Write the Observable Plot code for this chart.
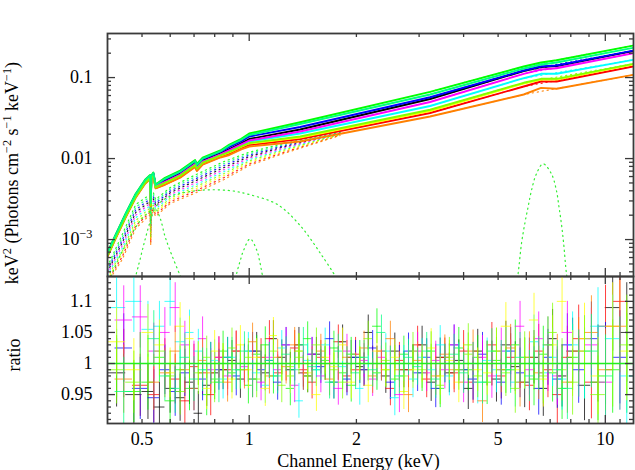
<!DOCTYPE html>
<html><head><meta charset="utf-8">
<script src="https://cdn.jsdelivr.net/npm/d3@7"></script>
<script src="https://cdn.jsdelivr.net/npm/@observablehq/plot@0.6"></script>
<style>
html,body{margin:0;padding:0;background:#fff;}
#chart{position:relative;width:635px;height:470px;overflow:hidden;}
#chart svg{position:absolute;left:0;}
#chart svg text{font-family:'Liberation Serif','Times New Roman',serif !important;}
</style></head><body><div id="chart"></div>
<script>
// ---------- model curves (keV, keV^2 Photons cm^-2 s^-1 keV^-1) ----------
const modelE = [0.4,0.42,0.45,0.48,0.51,0.527,0.529,0.531,0.538,0.546,0.58,0.64,0.705,0.713,0.74,0.83,0.88,0.95,1.0,1.39,3.22,5.9,6.6,7.3,12];
const modelBlack = [6.63e-4,1.062e-3,2.020e-3,3.53e-3,5.25e-3,6.01e-3,2.75e-3,5.92e-3,6.45e-3,4.59e-3,5.32e-3,6.52e-3,8.80e-3,7.87e-3,9.44e-3,1.156e-2,1.313e-2,1.544e-2,0.01744,0.02285,0.0544,0.1205,0.1350,0.1389,0.2128];
const modelRed = [6.26e-4,1.004e-3,1.909e-3,3.33e-3,4.96e-3,5.67e-3,2.60e-3,5.59e-3,6.09e-3,4.33e-3,4.81e-3,5.90e-3,7.97e-3,7.12e-3,8.54e-3,1.046e-2,1.155e-2,1.358e-2,0.01471,0.01744,0.0365,0.0776,0.0894,0.0894,0.1370];
const modelGreen = [6.92e-4,1.109e-3,2.109e-3,3.68e-3,5.48e-3,6.27e-3,2.87e-3,6.18e-3,6.73e-3,4.79e-3,5.79e-3,7.10e-3,9.59e-3,8.57e-3,1.028e-2,1.259e-2,1.492e-2,1.754e-2,0.02039,0.0281,0.0667,0.1370,0.1535,0.1638,0.2488];
const modelBlue = [6.73e-4,1.078e-3,2.050e-3,3.58e-3,5.33e-3,6.09e-3,2.79e-3,6.01e-3,6.54e-3,4.66e-3,5.55e-3,6.80e-3,9.19e-3,8.21e-3,9.85e-3,1.206e-2,1.389e-2,1.633e-2,0.01873,0.0245,0.0572,0.1222,0.1370,0.1409,0.2158];
const modelCyan = [6.44e-4,1.032e-3,1.963e-3,3.43e-3,5.10e-3,5.84e-3,2.67e-3,5.75e-3,6.27e-3,4.46e-3,5.10e-3,6.25e-3,8.44e-3,7.54e-3,9.05e-3,1.108e-2,1.240e-2,1.458e-2,0.01624,0.02039,0.0446,0.0982,0.1113,0.1113,0.1657];
const modelMagenta = [6.54e-4,1.048e-3,1.993e-3,3.48e-3,5.18e-3,5.93e-3,2.71e-3,5.84e-3,6.36e-3,4.53e-3,5.17e-3,6.34e-3,8.56e-3,7.65e-3,9.18e-3,1.124e-2,1.276e-2,1.500e-2,0.01671,0.02158,0.0499,0.1113,0.1258,0.1305,0.1999];
const modelYellow = [6.35e-4,1.018e-3,1.936e-3,3.38e-3,5.03e-3,5.76e-3,2.63e-3,5.67e-3,6.18e-3,4.40e-3,4.95e-3,6.07e-3,8.20e-3,7.33e-3,8.79e-3,1.076e-2,1.189e-2,1.398e-2,0.01535,0.01820,0.0387,0.0845,0.0946,0.0946,0.1450];
const modelOrange = [6.18e-4,0.990e-3,1.883e-3,3.29e-3,4.89e-3,5.60e-3,2.56e-3,5.52e-3,6.01e-3,4.28e-3,4.75e-3,5.82e-3,7.86e-3,7.03e-3,8.43e-3,1.032e-2,1.107e-2,1.301e-2,0.01409,0.01624,0.0331,0.0618,0.0747,0.0727,0.1082];
const modelYellowGreen = [6.35e-4,1.018e-3,1.936e-3,3.38e-3,5.03e-3,5.76e-3,2.63e-3,5.67e-3,6.18e-3,4.40e-3,5.03e-3,6.16e-3,8.32e-3,7.44e-3,8.92e-3,1.093e-2,1.206e-2,1.417e-2,0.01556,0.01873,0.0401,0.0862,0.0965,0.0965,0.1479];
const modelSpringGreen = [6.82e-4,1.094e-3,2.080e-3,3.63e-3,5.40e-3,6.18e-3,2.83e-3,6.09e-3,6.64e-3,4.72e-3,5.63e-3,6.90e-3,9.32e-3,8.33e-3,9.99e-3,1.224e-2,1.450e-2,1.705e-2,0.01954,0.0267,0.0618,0.1294,0.1450,0.1535,0.2331];

// dotted continuum components
const compE = [0.4,0.44,0.48,0.527,0.529,0.531,0.538,0.546,0.6,0.7,0.85,1.0,1.25,1.5,1.8];
const compHiE = [3.22,5.9,12];
const compGreen = [4.65e-4,1.155e-3,2.71e-3,3.60e-3,1.624e-3,3.60e-3,3.81e-3,3.12e-3,4.39e-3,6.18e-3,9.20e-3,1.198e-2,1.535e-2,1.820e-2,2.10e-2];
const compSpringGreen = [4.42e-4,1.067e-3,2.51e-3,3.38e-3,1.510e-3,3.38e-3,3.59e-3,2.96e-3,4.18e-3,5.84e-3,8.69e-3,1.149e-2,1.487e-2,1.780e-2,2.08e-2];
const compBlue = [4.20e-4,0.986e-3,2.33e-3,3.17e-3,1.405e-3,3.17e-3,3.38e-3,2.81e-3,3.97e-3,5.51e-3,8.21e-3,1.102e-2,1.440e-2,1.741e-2,2.06e-2];
const compBlack = [4.00e-4,9.11e-4,2.16e-3,2.98e-3,1.306e-3,2.98e-3,3.18e-3,2.66e-3,3.78e-3,5.21e-3,7.76e-3,1.056e-2,1.396e-2,1.703e-2,2.04e-2];
const compMagenta = [3.80e-4,8.42e-4,2.00e-3,2.80e-3,1.215e-3,2.80e-3,3.00e-3,2.52e-3,3.59e-3,4.92e-3,7.33e-3,1.013e-2,1.352e-2,1.666e-2,2.02e-2];
const compCyan = [3.61e-4,7.78e-4,1.855e-3,2.62e-3,1.129e-3,2.62e-3,2.82e-3,2.39e-3,3.41e-3,4.65e-3,6.92e-3,9.71e-3,1.310e-2,1.629e-2,2.00e-2];
const compYellowGreen = [3.43e-4,7.19e-4,1.719e-3,2.46e-3,1.050e-3,2.46e-3,2.66e-3,2.26e-3,3.24e-3,4.39e-3,6.54e-3,9.32e-3,1.270e-2,1.594e-2,1.98e-2];
const compYellow = [3.26e-4,6.65e-4,1.594e-3,2.31e-3,0.977e-3,2.31e-3,2.50e-3,2.14e-3,3.08e-3,4.15e-3,6.18e-3,8.93e-3,1.230e-2,1.559e-2,1.96e-2];
const compRed = [3.10e-4,6.14e-4,1.477e-3,2.17e-3,9.08e-4,2.17e-3,2.36e-3,2.03e-3,2.93e-3,3.92e-3,5.84e-3,8.56e-3,1.192e-2,1.525e-2,1.945e-2];
const compOrange = [2.95e-4,5.67e-4,1.370e-3,2.04e-3,8.45e-4,2.04e-3,2.22e-3,1.926e-3,2.79e-3,3.70e-3,5.51e-3,8.21e-3,1.155e-2,1.492e-2,1.93e-2];

// green soft components
const bumpE = [0.405,0.43,0.474,0.50,0.53,0.59,0.70,0.80,0.90,1.0,1.2,1.39,1.6,1.8];
const bumpV = [3.12e-4,5.84e-4,1.293e-3,1.820e-3,2.285e-3,3.31e-3,3.98e-3,4.12e-3,3.98e-3,3.60e-3,2.71e-3,1.492e-3,6.36e-4,2.87e-4];
const lineOE = [0.47,0.49,0.51,0.53,0.545,0.563,0.58,0.61,0.645];
const lineOV = [2.5e-4,5e-4,1.0e-3,1.8e-3,2.4e-3,1.8e-3,1.1e-3,6e-4,3.3e-4];
const line1E = [0.905,0.924,0.944,0.964,1.006,1.051,1.069,1.085,1.105];
const line1V = [2.5e-4,3.95e-4,5.51e-4,7.33e-4,1.022e-3,7.33e-4,5.51e-4,3.95e-4,2.5e-4];
const lineFeE = [5.6,5.689,5.815,5.94,6.068,6.203,6.406,6.686,7.058,7.29,7.414,7.53,7.64,7.78,7.9];
const lineFeV = [2.5e-4,3.78e-4,8.87e-4,1.566e-3,2.51e-3,4.03e-3,6.49e-3,8.62e-3,6.49e-3,4.03e-3,2.51e-3,1.566e-3,8.87e-4,3.78e-4,2.5e-4];

// ---------- residual ratios ----------
const edgesA = [0.40,0.45,0.50,0.54,0.58,0.62,0.66,0.70,0.74,0.78,0.82,0.87,0.92,0.97,1.02,1.08,1.14,1.20,1.27,1.34,1.42,1.50,1.59,1.68,1.78,1.88,1.99,2.10,2.22,2.35,2.49,2.64,2.80,2.97,3.15,3.34,3.54,3.76,4.00,4.25,4.52,4.80,5.10,5.42,5.76,6.12,6.50,6.90,7.33,7.80,8.40,9.10,10.0,11.0,12.0];
const errA = [0.055,0.05,0.045,0.04,0.04,0.038,0.036,0.035,0.034,0.033,0.032,0.032,0.031,0.03,0.03,0.029,0.029,0.028,0.028,0.028,0.027,0.027,0.027,0.027,0.027,0.027,0.027,0.028,0.028,0.028,0.029,0.029,0.03,0.03,0.031,0.031,0.032,0.033,0.034,0.035,0.036,0.037,0.038,0.04,0.041,0.043,0.045,0.047,0.05,0.053,0.057,0.062,0.07,0.08];
const edgesB = [0.42,0.47,0.52,0.56,0.60,0.64,0.68,0.72,0.76,0.80,0.845,0.895,0.945,0.995,1.05,1.11,1.17,1.235,1.305,1.38,1.46,1.545,1.635,1.73,1.83,1.935,2.045,2.16,2.285,2.42,2.565,2.72,2.885,3.06,3.245,3.44,3.65,3.88,4.125,4.385,4.66,4.95,5.26,5.59,5.94,6.31,6.70,7.11,7.56,8.1,8.75,9.55,10.5,11.5];
const errB = [0.055,0.05,0.045,0.04,0.04,0.038,0.036,0.035,0.034,0.033,0.032,0.032,0.031,0.03,0.03,0.029,0.029,0.028,0.028,0.028,0.027,0.027,0.027,0.027,0.027,0.027,0.027,0.028,0.028,0.028,0.029,0.029,0.03,0.03,0.031,0.031,0.032,0.033,0.034,0.035,0.036,0.037,0.038,0.04,0.041,0.043,0.045,0.047,0.05,0.054,0.059,0.066,0.075];
const ratioBlack = [0.985,0.95,0.955,0.93,0.96,0.945,0.97,0.92,0.965,0.985,0.99,1.005,0.975,1.0,1.02,0.985,1.04,1.01,0.99,1.03,0.98,1.015,1.0,0.97,1.035,1.01,0.995,1.05,1.0,0.98,1.02,0.99,1.0,1.03,0.97,1.01,0.985,1.005,0.96,1.02,1.0,0.975,1.03,0.995,0.97,1.01,0.96,1.04,0.98,1.02,0.965,1.0,1.09,1.05];
const ratioGreen = [1.0,0.955,0.97,1.01,0.94,0.99,0.96,1.0,0.95,0.975,1.02,0.985,1.0,0.965,1.015,1.03,0.98,1.0,0.96,1.02,1.04,0.99,1.005,1.025,0.985,0.965,1.01,1.0,1.06,0.99,0.975,1.015,1.0,0.985,1.02,0.96,1.0,1.025,0.99,1.01,0.97,1.005,0.99,1.03,1.0,0.975,1.015,0.985,0.96,1.01,1.0,0.97,0.99,1.0];
const ratioCyan = [1.09,1.1,1.055,1.06,1.1,1.035,1.05,1.02,0.99,1.005,0.975,1.01,0.99,1.02,0.985,0.965,1.0,1.025,0.98,0.94,1.005,0.99,1.03,0.97,0.995,1.015,0.96,1.0,0.985,1.02,0.945,1.0,0.975,1.01,0.99,1.03,0.98,1.0,1.015,0.97,1.005,0.99,1.02,0.97,1.0,1.035,0.985,1.01,0.975,1.03,1.0,1.06,1.04,0.98];
const ratioYellow = [1.035,0.99,1.05,1.03,0.985,1.06,1.04,1.0,0.96,1.02,1.0,0.975,1.03,0.99,1.01,0.96,1.045,1.0,0.98,1.02,0.985,0.95,1.01,0.995,1.03,0.97,1.0,0.965,1.02,0.99,1.01,0.955,0.99,1.0,1.025,0.98,1.005,0.97,1.015,0.99,0.985,1.02,1.06,0.99,1.0,1.07,0.975,1.03,1.1,1.0,1.04,0.98,1.06,1.02];
const ratioYellowGreen = [0.99,0.97,1.0,1.02,0.98,0.955,1.0,0.985,1.01,0.97,1.0,1.025,0.99,1.01,0.975,1.0,1.02,0.965,0.995,1.01,0.98,1.03,1.0,0.99,0.97,1.015,1.0,1.04,0.985,1.005,1.0,0.98,1.02,0.99,1.0,0.965,1.01,0.99,1.03,0.98,1.0,1.02,0.985,0.96,1.01,1.0,0.98,1.05,0.99,0.97,1.02,0.95,1.0,1.03];
const ratioRed = [1.0,0.965,0.95,1.0,0.975,0.94,0.995,0.985,0.95,1.01,0.99,1.02,1.0,0.975,1.01,1.04,0.985,1.0,1.025,0.99,0.97,1.01,1.0,1.035,0.98,1.015,0.99,1.0,1.02,0.96,1.005,0.99,1.03,0.975,1.0,1.01,0.985,1.02,0.97,1.0,1.03,0.98,1.01,1.0,0.965,1.02,0.99,0.95,1.01,1.04,0.97,1.06,1.1];
const ratioBlue = [1.025,0.96,0.945,0.99,0.955,0.985,0.96,0.975,1.0,0.99,1.01,0.98,1.0,1.02,0.99,1.005,0.97,1.03,1.0,0.985,1.015,0.995,1.04,1.0,0.975,1.01,0.99,1.025,1.0,0.97,1.0,1.02,0.985,1.01,0.96,1.0,1.03,0.99,0.975,1.015,1.0,0.97,1.02,0.985,1.0,0.96,1.01,0.975,1.03,0.99,1.04,1.0,1.01];
const ratioMagenta = [1.07,1.075,1.02,1.05,1.09,1.03,1.0,1.04,0.99,1.01,0.98,1.02,0.995,1.0,0.97,1.01,0.99,1.03,0.965,1.0,1.015,0.98,1.0,0.96,1.02,0.99,1.005,0.975,1.01,1.0,0.95,1.0,1.02,0.985,1.005,0.99,1.03,0.97,1.0,1.01,0.98,1.02,1.0,1.06,0.99,1.04,1.0,0.98,1.05,1.0,1.03,0.97,1.0];
const ratioOrange = [0.975,1.0,0.97,0.985,1.02,0.99,0.96,1.005,0.985,1.0,0.97,1.02,0.99,1.035,1.0,0.98,1.01,0.995,1.03,0.985,1.0,1.02,0.975,1.0,1.01,0.99,1.025,0.98,1.0,1.04,0.99,0.95,1.005,1.0,0.98,1.015,0.99,1.0,1.02,0.94,1.0,0.99,1.025,0.97,1.01,0.985,1.03,1.0,0.97,1.02,1.05,0.99,1.06];
const ratioSpringGreen = [0.955,1.0,1.04,0.98,0.96,1.01,0.975,0.99,1.0,0.97,1.01,0.99,1.02,0.975,1.0,1.005,0.98,1.015,0.99,1.03,0.995,1.0,0.97,1.02,1.0,0.985,1.01,0.99,1.05,1.0,0.98,1.01,0.995,1.02,0.975,1.0,1.015,0.985,1.0,0.97,1.02,1.0,0.99,1.01,0.98,1.0,1.03,0.99,0.96,1.0,1.02,0.98,1.0];

// ---------- axes ----------
const xLabelTicks = [0.5,1,2,5,10];
const xMajorTicks = [1,10];
const xMinorTicks = [0.5,0.6,0.7,0.8,0.9,2,3,4,5,6,7,8,9,11];
const specLabelTicks = [0.001,0.01,0.1];
const specMinorTicks = [0.0004,0.0005,0.0006,0.0007,0.0008,0.0009,0.002,0.003,0.004,0.005,0.006,0.007,0.008,0.009,0.02,0.03,0.04,0.05,0.06,0.07,0.08,0.09,0.2,0.3];
const ratioLabelTicks = [0.95,1,1.05,1.1];
const ratioMinorTicks = [0.91,0.92,0.93,0.94,0.96,0.97,0.98,0.99,1.01,1.02,1.03,1.04,1.06,1.07,1.08,1.09,1.11,1.12,1.13];
const xTitle = "Channel Energy (keV)";
const specTitle = "keV² (Photons cm⁻² s⁻¹ keV⁻¹)";
const ratioTitle = "ratio";

// ---------- build ----------
const series = [
  {color:"#000000", model:modelBlack, comp:compBlack, ratio:ratioBlack, edges:edgesA, err:errA},
  {color:"#ff0000", model:modelRed, comp:compRed, ratio:ratioRed, edges:edgesB, err:errB},
  {color:"#00ff00", model:modelGreen, comp:compGreen, ratio:ratioGreen, edges:edgesA, err:errA},
  {color:"#0000ff", model:modelBlue, comp:compBlue, ratio:ratioBlue, edges:edgesB, err:errB},
  {color:"#00ffff", model:modelCyan, comp:compCyan, ratio:ratioCyan, edges:edgesA, err:errA},
  {color:"#ff00ff", model:modelMagenta, comp:compMagenta, ratio:ratioMagenta, edges:edgesB, err:errB},
  {color:"#ffff00", model:modelYellow, comp:compYellow, ratio:ratioYellow, edges:edgesA, err:errA},
  {color:"#ff8000", model:modelOrange, comp:compOrange, ratio:ratioOrange, edges:edgesB, err:errB},
  {color:"#80ff00", model:modelYellowGreen, comp:compYellowGreen, ratio:ratioYellowGreen, edges:edgesA, err:errA},
  {color:"#00ff80", model:modelSpringGreen, comp:compSpringGreen, ratio:ratioSpringGreen, edges:edgesB, err:errB}
];

const W = 635, ML = 107, MR = 2;
const FW = W - ML - MR;
const H1 = 277, MT1 = 33, MB1 = 1, FH1 = H1 - MT1 - MB1;
const H2 = 195, MT2 = 1, MB2 = 47, FH2 = H2 - MT2 - MB2;
const font = "'Liberation Serif', 'Times New Roman', serif";
const tickColor = "#3a3a3a";

function xTickMarks(vals, len, fh) {
  return [
    Plot.tickX(vals, {x: d => d, insetTop: fh - len, stroke: tickColor, strokeWidth: 1.3}),
    Plot.tickX(vals, {x: d => d, insetBottom: fh - len, stroke: tickColor, strokeWidth: 1.3})
  ];
}
function yTickMarks(vals, len) {
  return [
    Plot.tickY(vals, {y: d => d, insetRight: FW - len, stroke: tickColor, strokeWidth: 1.3}),
    Plot.tickY(vals, {y: d => d, insetLeft: FW - len, stroke: tickColor, strokeWidth: 1.3})
  ];
}
const pts = (E, V) => E.map((e, i) => ({e, v: V[i]}));
const dotted = {strokeWidth: 1.2, strokeDasharray: "1.2,3.8", clip: true};

const topMarks = [];
for (const s of series) {
  topMarks.push(Plot.line(pts(compE, s.comp), {x: "e", y: "v", stroke: s.color, strokeOpacity: 0.85, ...dotted}));
  topMarks.push(Plot.line(compHiE.map(e => ({e, v: s.model[modelE.indexOf(e)]})), {x: "e", y: "v", stroke: s.color, strokeOpacity: 0.85, ...dotted}));
}
for (const [E, V] of [[bumpE, bumpV], [lineOE, lineOV], [line1E, line1V], [lineFeE, lineFeV]]) {
  topMarks.push(Plot.line(pts(E, V), {x: "e", y: "v", stroke: "#33ee33", curve: "catmull-rom", ...dotted}));
}
for (const s of series) {
  topMarks.push(Plot.line(pts(modelE, s.model), {x: "e", y: "v", stroke: s.color, strokeWidth: 1.9, strokeLinejoin: "round", clip: true}));
}
topMarks.push(
  ...xTickMarks(xMinorTicks, 4, FH1), ...xTickMarks(xMajorTicks, 8, FH1),
  ...yTickMarks(specMinorTicks, 4), ...yTickMarks(specLabelTicks, 8),
  Plot.frame({stroke: tickColor, strokeWidth: 1.8}),
  Plot.axisY(specLabelTicks, {tickSize: 0, tickPadding: 15, fontSize: 18, fontFamily: font, label: null,
    tickFormat: d => d === 0.001 ? "10⁻³" : String(d)}),
  Plot.text([specTitle], {text: d => d, frameAnchor: "left", textAnchor: "middle", lineAnchor: "middle",
    dx: -95, dy: 18, rotate: -90, fontSize: 18, fontFamily: font})
);

const topPlot = Plot.plot({
  width: W, height: H1, marginTop: MT1, marginBottom: MB1, marginLeft: ML, marginRight: MR,
  x: {type: "log", domain: [0.4, 12], axis: null},
  y: {type: "log", domain: [3.5e-4, 0.35], axis: null},
  style: {fontFamily: font, fontSize: "18px", background: "transparent", overflow: "visible", color: "#000"},
  marks: topMarks
});

const botMarks = [];
for (const s of series) {
  const n = Math.min(s.ratio.length, s.edges.length - 1, s.err.length);
  const rows = d3.range(n).map(i => ({
    x1: s.edges[i], x2: s.edges[i + 1], xc: Math.sqrt(s.edges[i] * s.edges[i + 1]),
    r: s.ratio[i], lo: s.ratio[i] - s.err[i], hi: s.ratio[i] + s.err[i]
  }));
  botMarks.push(
    Plot.ruleX(rows, {x: "xc", y1: "lo", y2: "hi", stroke: s.color, strokeWidth: 1, strokeOpacity: 0.75, clip: true}),
    Plot.ruleY(rows, {y: "r", x1: "x1", x2: "x2", stroke: s.color, strokeWidth: 1, strokeOpacity: 0.75, clip: true})
  );
}
botMarks.push(
  Plot.ruleY([1], {stroke: "#22ee22", strokeWidth: 1.6, clip: true}),
  ...xTickMarks(xMinorTicks, 4, FH2), ...xTickMarks(xMajorTicks, 8, FH2),
  ...yTickMarks(ratioMinorTicks, 4), ...yTickMarks(ratioLabelTicks, 8),
  Plot.frame({stroke: tickColor, strokeWidth: 1.8}),
  Plot.text(xLabelTicks, {x: d => d, text: d => String(d), frameAnchor: "bottom", textAnchor: "middle",
    lineAnchor: "middle", dy: 16, fontSize: 18, fontFamily: font}),
  Plot.axisY(ratioLabelTicks, {tickSize: 0, tickPadding: 15, fontSize: 18, fontFamily: font, label: null, tickFormat: d => String(d)}),
  Plot.text([xTitle], {text: d => d, frameAnchor: "bottom", textAnchor: "middle", lineAnchor: "middle",
    dx: -12, dy: 38, fontSize: 18, fontFamily: font}),
  Plot.text([ratioTitle], {text: d => d, frameAnchor: "left", textAnchor: "middle", lineAnchor: "middle",
    dx: -93, dy: 5, rotate: -90, fontSize: 18, fontFamily: font})
);

const bottomPlot = Plot.plot({
  width: W, height: H2, marginTop: MT2, marginBottom: MB2, marginLeft: ML, marginRight: MR,
  x: {type: "log", domain: [0.4, 12], axis: null},
  y: {domain: [0.9035, 1.14], axis: null},
  style: {fontFamily: font, fontSize: "18px", background: "transparent", overflow: "visible", color: "#000"},
  marks: botMarks
});

const chart = document.getElementById("chart");
topPlot.style.top = "0px";
bottomPlot.style.top = "275px";
chart.appendChild(topPlot);
chart.appendChild(bottomPlot);

// superscripts as real text spans
function richText(svg, plain, parts) {
  for (const t of svg.querySelectorAll("text")) {
    if (t.textContent === plain) {
      while (t.firstChild) t.removeChild(t.firstChild);
      for (const [str, sup] of parts) {
        const ts = document.createElementNS("http://www.w3.org/2000/svg", "tspan");
        ts.textContent = str;
        if (sup) { ts.setAttribute("baseline-shift", "super"); ts.setAttribute("font-size", "0.68em"); }
        t.appendChild(ts);
      }
    }
  }
}
richText(topPlot, "10⁻³", [["10", false], ["−3", true]]);
richText(topPlot, specTitle, [["keV", false], ["2", true], [" (Photons cm", false], ["−2", true], [" s", false], ["−1", true], [" keV", false], ["−1", true], [")", false]]);
</script></body></html>
